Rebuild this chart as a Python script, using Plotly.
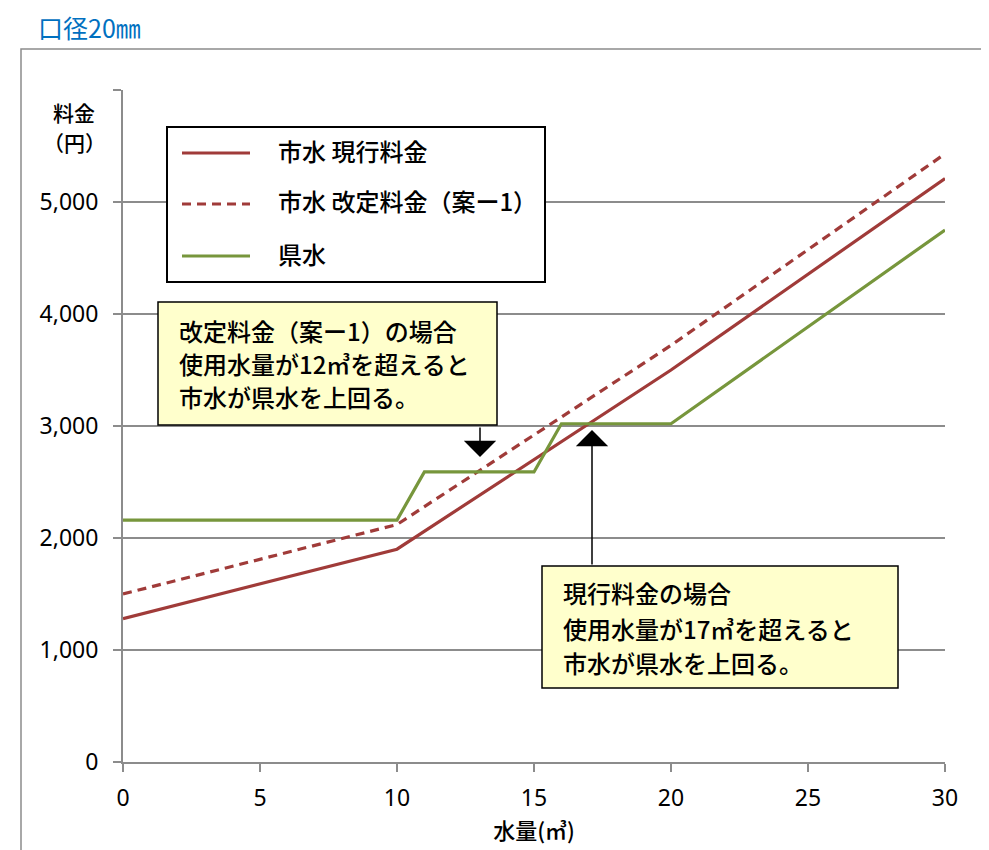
import plotly.graph_objects as go

# ---------------- data ----------------
volume_city = [0, 10, 20, 30]
city_current_fee = [1280, 1900, 3500, 5210]
city_revised_fee = [1500, 2120, 3720, 5430]
volume_pref = [0, 10, 11, 15, 16, 20, 30]
pref_fee = [2160, 2160, 2590, 2590, 3020, 3020, 4750]

series_names = ["市水 現行料金", "市水 改定料金（案ー1）", "県水"]
x_ticks = [0, 5, 10, 15, 20, 25, 30]
y_ticks = [0, 1000, 2000, 3000, 4000, 5000, 6000]
y_tick_labels = ["0", "1,000", "2,000", "3,000", "4,000", "5,000", ""]
title_text = "口径20㎜"
x_title = "水量(㎥)"
y_title_lines = ["料金", "（円）"]
note_revised = ["改定料金（案ー1）の場合", "使用水量が12㎥を超えると", "市水が県水を上回る。"]
note_current = ["現行料金の場合", "使用水量が17㎥を超えると", "市水が県水を上回る。"]

# ---------------- layout helpers ----------------
OFF = 8                      # page body margin of the browser
W, H = 981, 842
L, R, T, B = 115, 44, 82, 88
PW = W - L - R
PH = H - T - B
FONT = "Noto Sans CJK JP"
NUMFONT = "Noto Sans"
RED = "#A03B39"
GREEN = "#77963C"
GRID = "#8C8C8C"
LW = 3.2


def px_x(px):
    return (px - OFF - L) / PW


def px_y(py):
    return (H - B - (py - OFF)) / PH


def val_x(px):
    return px_x(px) * 30


def val_y(py):
    return px_y(py) * 6000


fig = go.Figure()
fig.add_trace(go.Scatter(x=volume_city, y=city_current_fee, mode="lines", name=series_names[0],
                         showlegend=False, line=dict(color=RED, width=LW)))
fig.add_trace(go.Scatter(x=volume_city, y=city_revised_fee, mode="lines", name=series_names[1],
                         showlegend=False, line=dict(color=RED, width=LW, dash="9px,6px")))
fig.add_trace(go.Scatter(x=volume_pref, y=pref_fee, mode="lines", name=series_names[2],
                         showlegend=False, line=dict(color=GREEN, width=LW)))

txt_font = dict(family=FONT, size=24, color="black", weight=500)

annotations = [
    dict(text=title_text, xref="paper", yref="paper", x=px_x(36), y=px_y(27),
         xanchor="left", yanchor="middle", showarrow=False,
         font=dict(family=FONT, size=25, color="#0070C0")),
]
for line_text, row in zip(y_title_lines, [112, 142]):
    annotations.append(dict(text=line_text, xref="paper", yref="paper", x=px_x(74), y=px_y(row),
                            xanchor="center", yanchor="middle", showarrow=False,
                            font=dict(family=FONT, size=21, color="black", weight=500)))

shapes = [
    # outer chart frame
    dict(type="rect", xref="paper", yref="paper",
         x0=px_x(21), x1=px_x(984), y0=px_y(880), y1=px_y(49),
         line=dict(color=GRID, width=1.5), layer="below"),
    # legend box
    dict(type="rect", xref="paper", yref="paper",
         x0=px_x(167), x1=px_x(545), y0=px_y(282), y1=px_y(127),
         line=dict(color="black", width=2), fillcolor="white", layer="above"),
]

# manual legend entries
legend_styles = [dict(color=RED, width=LW), dict(color=RED, width=LW, dash="9px,6px"),
                 dict(color=GREEN, width=LW)]
legend_rows = [153, 204, 256]
for name, style, row in zip(series_names, legend_styles, legend_rows):
    shapes.append(dict(type="line", xref="paper", yref="paper",
                       x0=px_x(182), x1=px_x(250), y0=px_y(row), y1=px_y(row),
                       line=style, layer="above"))
    annotations.append(dict(text=name, xref="paper", yref="paper", x=px_x(276), y=px_y(row - 3),
                            xanchor="left", yanchor="middle", showarrow=False, font=txt_font))

# call-out boxes
boxes = [((158, 302, 497, 425), note_revised, [330, 363, 396]),
         ((542, 566, 898, 688), note_current, [592, 628, 662])]
for (x0, y0, x1, y1), lines, rows in boxes:
    shapes.append(dict(type="rect", xref="paper", yref="paper",
                       x0=px_x(x0), x1=px_x(x1), y0=px_y(y1), y1=px_y(y0),
                       line=dict(color="black", width=1.5), fillcolor="#FFFFCC", layer="above"))
    for line_text, row in zip(lines, rows):
        annotations.append(dict(text=line_text, xref="paper", yref="paper", x=px_x(x0 + 19),
                                y=px_y(row), xanchor="left", yanchor="middle", showarrow=False,
                                font=txt_font))

# arrows
annotations.append(dict(text="", x=val_x(480), y=val_y(457), ax=val_x(480), ay=val_y(426),
                        xref="x", yref="y", axref="x", ayref="y", showarrow=True,
                        arrowhead=1, arrowsize=3.6, arrowwidth=1.5, arrowcolor="black"))
annotations.append(dict(text="", x=val_x(592), y=val_y(430), ax=val_x(592), ay=val_y(566),
                        xref="x", yref="y", axref="x", ayref="y", showarrow=True,
                        arrowhead=1, arrowsize=3.6, arrowwidth=1.5, arrowcolor="black"))

fig.update_layout(
    width=W, height=H,
    margin=dict(l=L, r=R, t=T, b=B, autoexpand=False),
    paper_bgcolor="white", plot_bgcolor="white",
    font=dict(family=FONT, color="black"),
    showlegend=False,
    xaxis=dict(range=[0, 30], tickvals=x_ticks, showgrid=False, zeroline=False,
               showline=True, linecolor=GRID, linewidth=2, automargin=False,
               ticks="outside", ticklen=8, tickcolor=GRID, tickwidth=1.5,
               ticklabelstandoff=6,
               tickfont=dict(family=NUMFONT, size=23, color="black"),
               title=dict(text=x_title, font=dict(family=FONT, size=22, color="black", weight=500),
                          standoff=12)),
    yaxis=dict(range=[0, 6000], tickvals=y_ticks, ticktext=y_tick_labels,
               showgrid=True, gridcolor=GRID, gridwidth=1.5, zeroline=False,
               showline=True, linecolor=GRID, linewidth=2, automargin=False,
               ticks="outside", ticklen=8, tickcolor=GRID, tickwidth=1.5,
               ticklabelstandoff=10,
               tickfont=dict(family=NUMFONT, size=23, color="black")),
    annotations=annotations,
    shapes=shapes,
)

fig.write_html("out.html")
